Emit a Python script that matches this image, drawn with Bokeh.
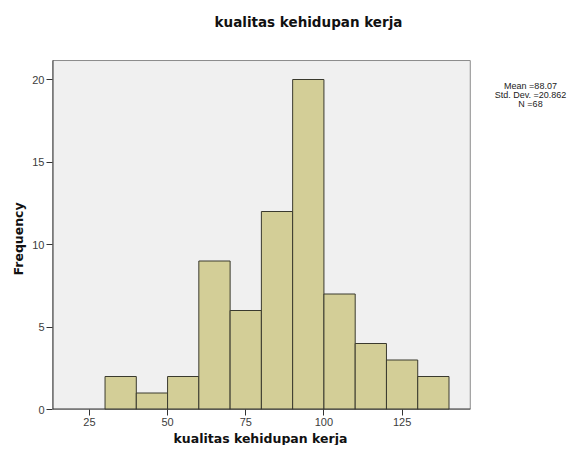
import math
from bokeh.plotting import figure
from bokeh.models import ColumnDataSource, FixedTicker, Label, Range1d, Title
from bokeh.embed import file_html
from bokeh.resources import INLINE

# ---- data ----
bin_lower = [30, 40, 50, 60, 70, 80, 90, 100, 110, 120, 130]
bin_upper = [40, 50, 60, 70, 80, 90, 100, 110, 120, 130, 140]
counts = [2, 1, 2, 9, 6, 12, 20, 7, 4, 3, 2]
x_ticks = [25, 50, 75, 100, 125]
y_ticks = [0, 5, 10, 15, 20]
title_text = "kualitas kehidupan kerja"
x_label = "kualitas kehidupan kerja"
y_label = "Frequency"
stats_lines = ["Mean =88.07", "Std. Dev. =20.862", "N =68"]

# plot-area extent (data units)
AX0, AX1 = 13.2, 146.8
AY0, AY1 = 0, 21.15

W, H = 570, 445
FL, FB = 52, 409          # frame left / bottom (canvas px)
PXX = 3.127               # px per x unit
PXY = 16.5                # px per y unit
X0 = AX0
X1 = AX0 + (W - FL) / PXX
Y0 = 0
Y1 = FB / PXY


def dx(cx):
    return X0 + (cx - FL) / PXX


def dy(cy):
    return (FB - cy) / PXY


p = figure(width=W, height=H, output_backend="svg", toolbar_location=None,
           x_range=Range1d(X0, X1), y_range=Range1d(Y0, Y1),
           min_border_left=FL, min_border_right=0,
           min_border_top=0, min_border_bottom=H - FB)

p.background_fill_color = "white"
p.border_fill_color = "white"
p.outline_line_color = None
p.grid.visible = False

# plot area background with grey frame
p.quad(left=[AX0], right=[AX1], bottom=[AY0], top=[AY1],
       fill_color="#F0F0F0", line_color="#8C8C8C", line_width=1)

src = ColumnDataSource(dict(left=bin_lower, right=bin_upper, top=counts,
                            bottom=[0] * len(counts)))
p.quad(left="left", right="right", top="top", bottom="bottom", source=src,
       fill_color="#D3CE97", line_color="#3A3A2E", line_width=1)

# dark axis lines along the plot area
p.segment(x0=[AX0, AX0], y0=[AY0, AY0], x1=[AX1, AX0], y1=[AY0, AY1],
          line_color="#333333", line_width=2)

for ax in (p.xaxis[0], p.yaxis[0]):
    ax.axis_line_color = None
    ax.major_tick_line_color = "#333333"
    ax.major_tick_out = 6
    ax.major_tick_in = 0
    ax.minor_tick_line_color = None
    ax.major_label_text_font = "Liberation Sans"
    ax.major_label_text_font_size = "11px"
    ax.major_label_text_color = "#3C3C3C"

p.xaxis[0].ticker = FixedTicker(ticks=x_ticks)
p.yaxis[0].ticker = FixedTicker(ticks=y_ticks)
p.xaxis[0].major_label_standoff = 2
p.yaxis[0].major_label_standoff = 2

# x-axis label as a title below, placed under the plot area
xt = Title(text=x_label, align="left", offset=121,
           text_font="DejaVu Sans", text_font_style="bold",
           text_font_size="12.5px", text_color="#111111", standoff=0)
p.add_layout(xt, "below")

# y-axis label as a title on the left, placed beside the plot area
yt = Title(text=y_label, align="left", offset=134,
           text_font="DejaVu Sans", text_font_style="bold",
           text_font_size="12.5px", text_color="#111111", standoff=7)
p.add_layout(yt, "left")

# title
p.add_layout(Label(x=dx(308), y=dy(21), text=title_text,
                   text_font="DejaVu Sans", text_font_style="bold",
                   text_font_size="13.5px", text_color="#111111",
                   text_align="center", text_baseline="middle"))
# stats
for i, s in enumerate(stats_lines):
    p.add_layout(Label(x=dx(530), y=dy(85.5 + 9 * i), text=s,
                       text_font="Liberation Sans", text_font_size="9px",
                       text_color="#222222", text_align="center",
                       text_baseline="middle"))

open("out.html", "w").write(file_html(p, INLINE))
